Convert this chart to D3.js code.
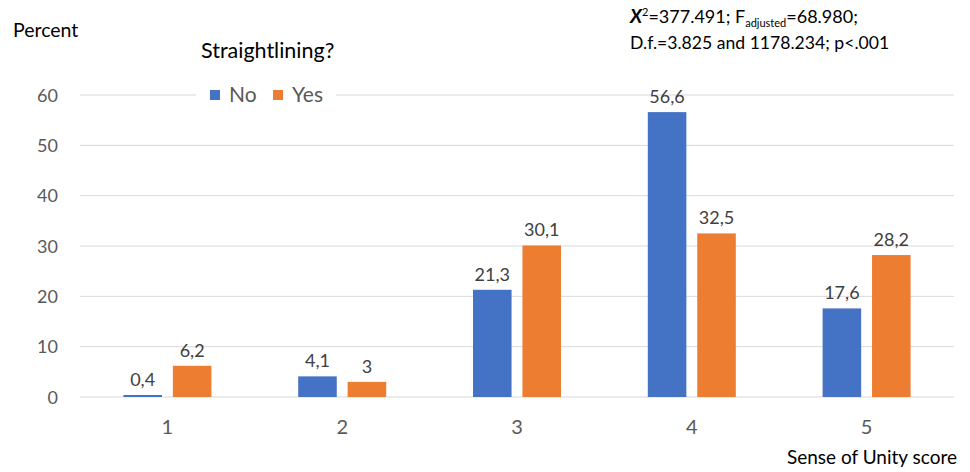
<!DOCTYPE html>
<html><head><meta charset="utf-8">
<script src="https://cdn.jsdelivr.net/npm/d3@7"></script>
<style>body{margin:0;background:#fff}svg{display:block;font-family:Lato,"Liberation Sans",sans-serif}</style>
</head><body><svg id="c" width="970" height="472"></svg>
<script>
const categories = ["1","2","3","4","5"];
const seriesNames = ["No","Yes"];
const noValues = [0.4, 4.1, 21.3, 56.6, 17.6];
const yesValues = [6.2, 3, 30.1, 32.5, 28.2];
const yTicks = [0,10,20,30,40,50,60];
const colors = {No:"#4472C4", Yes:"#ED7D31"};

(function(){
const svg = d3.select("#c");
const pL = 80, pR = 954, pT = 95, pB = 397;
const x = d3.scaleBand().domain(categories).range([pL, pR]).paddingInner(0).paddingOuter(0);
const x1 = d3.scaleBand().domain(seriesNames).range([0, 88]).paddingInner(0.22);
const y = d3.scaleLinear().domain([0,60]).range([pB, pT]);

svg.append("g").selectAll("line").data(yTicks).join("line")
  .attr("x1", pL).attr("x2", pR).attr("y1", d=>y(d)).attr("y2", d=>y(d))
  .attr("stroke", "#d9d9d9").attr("stroke-width", 1);

const yAxis = d3.axisLeft(y).tickValues(yTicks).tickSize(0).tickPadding(0);
const ya = svg.append("g").attr("transform", `translate(58,0)`).call(yAxis);
ya.select(".domain").remove();
ya.selectAll("text").attr("font-size", 18).attr("fill", "#595959").attr("font-family", "Lato,sans-serif").attr("dy","0.35em");

const xAxis = d3.axisBottom(x).tickSize(0).tickPadding(0);
const xa = svg.append("g").attr("transform", `translate(0,${pB+23})`).call(xAxis);
xa.select(".domain").remove();
xa.selectAll("text").attr("font-size", 20).attr("fill", "#595959").attr("font-family", "Lato,sans-serif").attr("dy","0.71em");

const data = categories.map((c,i)=>({c, vals:[{s:"No",v:noValues[i]},{s:"Yes",v:yesValues[i]}]}));
const groups = svg.append("g").selectAll("g").data(data).join("g")
  .attr("transform", d=>`translate(${x(d.c)+x.bandwidth()/2-44},0)`);
groups.selectAll("rect").data(d=>d.vals).join("rect")
  .attr("x", d=>x1(d.s)).attr("width", x1.bandwidth())
  .attr("y", d=>y(d.v)).attr("height", d=>Math.max(1.5, y(0)-y(d.v)))
  .attr("fill", d=>colors[d.s]);
groups.selectAll("text").data(d=>d.vals).join("text")
  .attr("x", d=>x1(d.s)+x1.bandwidth()/2).attr("y", d=>y(d.v)-9)
  .attr("text-anchor","middle").attr("font-size",18).attr("fill","#404040")
  .text(d=>String(d.v).replace(".",","));

svg.append("rect").attr("x",196).attr("y",83).attr("width",140).attr("height",24).attr("fill","#fff");
const leg = [{s:"No",x:210},{s:"Yes",x:273}];
leg.forEach(l=>{
  svg.append("rect").attr("x",l.x).attr("y",90).attr("width",10).attr("height",10).attr("fill",colors[l.s]);
  svg.append("text").attr("x",l.x+19).attr("y",102).attr("font-size",21).attr("fill","#595959").text(l.s);
});

svg.append("text").attr("x",13).attr("y",37).attr("font-size",19.5).attr("fill","#000").text("Percent");
svg.append("text").attr("x",201).attr("y",58).attr("font-size",21.5).attr("fill","#000").text("Straightlining?");
svg.append("text").attr("x",957).attr("y",464).attr("text-anchor","end").attr("font-size",19).attr("fill","#000").text("Sense of Unity score");

const a1 = svg.append("text").attr("x",630).attr("y",23).attr("font-size",18).attr("fill","#000");
a1.append("tspan").attr("font-weight","bold").attr("font-style","italic").attr("font-size",19).text("X");
a1.append("tspan").attr("font-size",11).attr("dy",-7).text("2");
a1.append("tspan").attr("dy",7).text("=377.491; F");
a1.append("tspan").attr("font-size",11).attr("dy",4).text("adjusted");
a1.append("tspan").attr("dy",-4).text("=68.980;");
svg.append("text").attr("x",630).attr("y",49).attr("font-size",17.6).attr("fill","#000").text("D.f.=3.825 and 1178.234; p<.001");
})();
</script></body></html>
